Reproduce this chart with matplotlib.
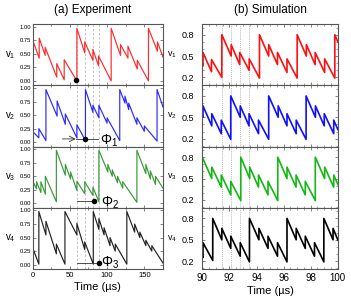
import numpy as np
import matplotlib
matplotlib.use("Agg")
from matplotlib import pyplot as plt
from matplotlib.ticker import MultipleLocator

plt.rcParams['font.family'] = ['Liberation Sans', 'DejaVu Sans']
plt.rcParams['mathtext.fontset'] = 'custom'
plt.rcParams['mathtext.rm'] = 'Liberation Sans'
plt.rcParams['mathtext.it'] = 'Liberation Sans:italic'

# experiment traces (vertices, time in us)
exp_t1 = [0, 9, 9, 17, 17, 32.5, 32.5, 42.5, 42.5, 59.5, 59.5, 70, 70, 81, 81, 88.5, 88.5,
          105.5, 105.5, 118, 118, 128, 128, 140.5, 140.5, 155.5, 155.5, 167.5, 167.5, 175]
exp_v1 = [0.76, 0.42, 0.79, 0.47, 0.62, 0.07, 0.32, 0.02, 0.39, 0.0, 0.97, 0.52, 0.72, 0.38, 0.58,
          0.28, 0.46, 0.0, 0.97, 0.47, 0.67, 0.42, 0.64, 0.22, 0.38, 0.0, 0.97, 0.55, 0.72, 0.44]
exp_t2 = [0, 8.5, 8.5, 18, 18, 33, 33, 44, 44, 59.5, 59.5, 71, 71, 81, 81, 89, 89, 100, 100,
          117, 117, 124, 124, 129, 129, 140, 140, 150, 150, 167, 167, 175]
exp_v2 = [0.20, 0.08, 0.25, 0.03, 0.97, 0.48, 0.76, 0.33, 0.52, 0.08, 0.32, 0.03, 0.97, 0.55,
          0.68, 0.45, 0.68, 0.35, 0.45, 0.03, 0.97, 0.72, 0.85, 0.60, 0.72, 0.33, 0.45, 0.20,
          0.30, 0.02, 0.97, 0.65]
exp_t3 = [0, 5.4, 5.4, 11.3, 11.3, 17.2, 17.2, 32, 32, 44, 44, 51, 51, 59.5, 59.5, 70, 70, 81,
          81, 89, 89, 101, 101, 107, 107, 114, 114, 121, 121, 140, 140, 152, 152, 158, 158, 165,
          165, 175]
exp_v3 = [0.42, 0.27, 0.40, 0.20, 0.40, 0.17, 0.50, 0.03, 0.98, 0.52, 0.72, 0.45, 0.58, 0.24,
          0.41, 0.18, 0.40, 0.15, 0.30, 0.03, 0.98, 0.58, 0.72, 0.50, 0.62, 0.38, 0.50, 0.28,
          0.40, 0.02, 0.98, 0.55, 0.72, 0.45, 0.60, 0.35, 0.50, 0.28]
exp_t4 = [0, 8.5, 8.5, 18, 18, 32, 32, 43.5, 43.5, 59.5, 59.5, 70, 70, 81.5, 81.5, 89, 89, 96,
          96, 104, 104, 111, 111, 126.5, 126.5, 137, 137, 144, 144, 152, 152, 160, 160, 175]
exp_v4 = [0.32, 0.01, 0.98, 0.55, 0.80, 0.20, 0.38, 0.01, 0.98, 0.55, 0.76, 0.28, 0.42, 0.01,
          0.98, 0.65, 0.85, 0.55, 0.68, 0.35, 0.50, 0.25, 0.38, 0.01, 0.98, 0.60, 0.75, 0.50,
          0.60, 0.35, 0.45, 0.25, 0.35, 0.03]

# simulation traces
sim_t1 = [90.0, 90.05, 90.05, 90.68, 90.68, 91.44, 91.44, 92.13, 92.13, 92.76, 92.76, 93.46,
          93.46, 94.22, 94.22, 94.9, 94.9, 95.55, 95.55, 96.25, 96.25, 97.0, 97.0, 97.68, 97.68,
          98.33, 98.33, 99.03, 99.03, 99.78, 99.78, 100.0]
sim_v1 = [0.38, 0.36, 0.55, 0.28, 0.45, 0.20, 0.80, 0.50, 0.66, 0.38, 0.55, 0.30, 0.46, 0.19,
          0.80, 0.50, 0.66, 0.38, 0.55, 0.27, 0.46, 0.19, 0.80, 0.50, 0.66, 0.38, 0.55, 0.27,
          0.46, 0.19, 0.80, 0.70]
sim_t2 = [90.0, 90.05, 90.05, 90.7, 90.7, 91.4, 91.4, 92.1, 92.1, 92.8, 92.8, 93.45, 93.45,
          94.15, 94.15, 94.9, 94.9, 95.6, 95.6, 96.25, 96.25, 96.93, 96.93, 97.66, 97.66, 98.35,
          98.35, 99.0, 99.0, 99.7, 99.7, 100.0]
sim_v2 = [0.52, 0.50, 0.66, 0.38, 0.55, 0.27, 0.46, 0.19, 0.80, 0.50, 0.66, 0.38, 0.55, 0.27,
          0.46, 0.19, 0.80, 0.50, 0.66, 0.38, 0.55, 0.27, 0.46, 0.19, 0.80, 0.50, 0.66, 0.38,
          0.55, 0.27, 0.46, 0.33]
sim_t3 = [90.0, 90.0, 90.7, 90.7, 91.4, 91.4, 92.1, 92.1, 92.84, 92.84, 93.5, 93.5, 94.15,
          94.15, 94.85, 94.85, 95.57, 95.57, 96.25, 96.25, 96.92, 96.92, 97.6, 97.6, 98.34,
          98.34, 99.03, 99.03, 99.7, 99.7, 100.0]
sim_v3 = [0.20, 0.80, 0.50, 0.66, 0.38, 0.55, 0.27, 0.46, 0.19, 0.80, 0.50, 0.66, 0.38, 0.55,
          0.27, 0.46, 0.19, 0.80, 0.50, 0.66, 0.38, 0.55, 0.27, 0.46, 0.19, 0.80, 0.50, 0.66,
          0.38, 0.55, 0.42]
sim_t4 = [90.0, 90.05, 90.05, 90.77, 90.77, 91.44, 91.44, 92.1, 92.1, 92.8, 92.8, 93.48, 93.48,
          94.18, 94.18, 94.85, 94.85, 95.55, 95.55, 96.25, 96.25, 96.93, 96.93, 97.6, 97.6,
          98.28, 98.28, 98.97, 98.97, 99.65, 99.65, 100.0]
sim_v4 = [0.27, 0.25, 0.46, 0.21, 0.80, 0.50, 0.66, 0.38, 0.55, 0.27, 0.46, 0.19, 0.80, 0.50,
          0.66, 0.38, 0.55, 0.27, 0.46, 0.19, 0.80, 0.50, 0.66, 0.38, 0.55, 0.27, 0.46, 0.19,
          0.80, 0.50, 0.66, 0.50]

exp_marks = [59.5, 71, 81, 89]
sim_marks = [91.43, 92.1, 92.8, 93.46]
labels = ['$\\mathregular{v_1}$', '$\\mathregular{v_2}$', '$\\mathregular{v_3}$', '$\\mathregular{v_4}$']
exp_colors = ['#ff2a2a', '#2a2aff', '#3a993a', '#222222']
sim_colors = ['#ff1010', '#1010ff', '#14b814', '#000000']

exp_data = [(exp_t1, exp_v1), (exp_t2, exp_v2), (exp_t3, exp_v3), (exp_t4, exp_v4)]
sim_data = [(sim_t1, sim_v1), (sim_t2, sim_v2), (sim_t3, sim_v3), (sim_t4, sim_v4)]

W, H = 351, 303
fig = plt.figure(figsize=(W / 100, H / 100), dpi=100)

top, bot = 24, 269
ph = (bot - top) / 4
spine_c = '#555555'

def style(ax):
    for s in ax.spines.values():
        s.set_color(spine_c)
        s.set_linewidth(0.8)
    ax.tick_params(which='both', direction='in', top=True, right=True, color=spine_c)

exp_axes, sim_axes = [], []
for i in range(4):
    y0 = 1 - (top + (i + 1) * ph) / H
    # experiment
    ax = fig.add_axes([32.5 / W, y0, 130.5 / W, ph / H])
    t, v = exp_data[i]
    ax.plot(t, v, color=exp_colors[i], lw=0.85)
    for m in exp_marks:
        ax.axvline(m, color='#bbbbbb', lw=0.6, ls=(0, (3, 2)), zorder=0)
    ax.set_xlim(0, 175)
    ax.set_ylim(-0.08, 1.05)
    ax.set_yticks([0, 0.25, 0.5, 0.75, 1.0])
    ax.set_yticklabels(['0.00', '0.25', '0.50', '0.75', '1.00'])
    ax.xaxis.set_major_locator(MultipleLocator(50))
    ax.xaxis.set_minor_locator(MultipleLocator(25))
    style(ax)
    ax.tick_params(which='major', length=2.5, width=0.5, labelsize=4.2, pad=1)
    ax.tick_params(which='minor', length=1.5, width=0.5)
    if i < 3:
        ax.set_xticklabels([])
    else:
        ax.tick_params(axis='x', labelsize=5.5, pad=2)
    fig.text(10 / W, y0 + ph / H / 2, labels[i], fontsize=7, ha='center', va='center')
    exp_axes.append(ax)

    # simulation
    ax = fig.add_axes([202.3 / W, y0, 135.5 / W, ph / H])
    t, v = sim_data[i]
    ax.plot(t, v, color=sim_colors[i], lw=1.2)
    for m in sim_marks:
        ax.axvline(m, color='#999999', lw=0.6, ls=(0, (1, 1.5)), zorder=0)
    ax.set_xlim(90, 100)
    ax.set_ylim(0.09, 0.95)
    ax.set_yticks([0.2, 0.5, 0.8])
    ax.xaxis.set_major_locator(MultipleLocator(2))
    ax.xaxis.set_minor_locator(MultipleLocator(0.5))
    ax.yaxis.set_minor_locator(MultipleLocator(0.1))
    style(ax)
    ax.tick_params(which='major', length=2.5, width=0.5, labelsize=6.5, pad=6)
    ax.tick_params(which='minor', length=1.5, width=0.4)
    if i < 3:
        ax.set_xticklabels([])
    else:
        ax.tick_params(axis='x', labelsize=7, pad=3)
    fig.text(172 / W, y0 + ph / H / 2, labels[i], fontsize=6.5, ha='center', va='center')
    sim_axes.append(ax)

# phase markers
ax = exp_axes[0]
ax.plot([58.7], [0.01], 'o', color='k', ms=3)

ax = exp_axes[1]
ax.annotate('', xy=(58, 0.06), xytext=(40, 0.06),
            arrowprops=dict(arrowstyle='->', lw=0.6, color='#333333', shrinkA=0, shrinkB=0))
ax.plot([58, 88], [0.06, 0.06], color='#333333', lw=0.6)
ax.plot([70.5], [0.06], 'o', color='k', ms=3)
ax.text(90, 0.02, '$\\Phi_1$', fontsize=10, va='center')

ax = exp_axes[2]
ax.plot([59.5, 83], [0.05, 0.05], color='#333333', lw=0.6)
ax.plot([83], [0.05], 'o', color='k', ms=3)
ax.text(92, 0.02, '$\\Phi_2$', fontsize=10, va='center')

ax = exp_axes[3]
ax.plot([59.5, 89], [0.03, 0.03], color='#333333', lw=0.6)
ax.plot([89], [0.03], 'o', color='k', ms=3)
ax.text(92, 0.04, '$\\Phi_3$', fontsize=10, va='center')

exp_axes[3].set_xlabel('Time (µs)', fontsize=8, labelpad=2)
sim_axes[3].set_xlabel('Time (µs)', fontsize=8, labelpad=2)

fig.text(93 / W, 1 - 10 / H, '(a) Experiment', fontsize=8.5, ha='center', va='center')
fig.text(270 / W, 1 - 10 / H, '(b) Simulation', fontsize=8.5, ha='center', va='center')

fig.savefig('out.png', dpi=100)
